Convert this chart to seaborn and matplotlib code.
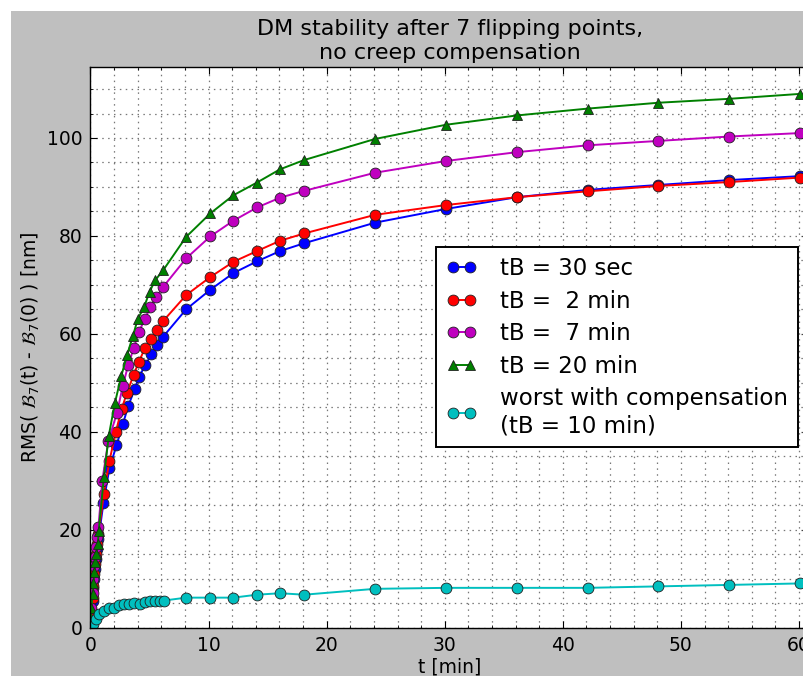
import numpy as np
import pandas as pd
import matplotlib
matplotlib.use("Agg")
import matplotlib.pyplot as plt
import seaborn as sns
from matplotlib.patches import Rectangle
from matplotlib.ticker import MultipleLocator

# ---------------- data ----------------
late_t = [8.1, 10.15, 12.1, 14.1, 16.05, 18.1, 24.1, 30.1, 36.1, 42.1, 48.1, 54.1, 60.05]

t_30s = [0, 0.08, 0.17, 0.25, 0.33, 0.42, 0.5, 0.58, 0.67, 1.1, 1.6, 2.2, 2.75, 3.2,
         3.75, 4.1, 4.65, 5.15, 5.65, 6.15] + late_t
y_30s = [0, 3, 5.5, 8, 10, 12, 14, 16, 18, 25.5, 32.5, 37.2, 41.6, 45.3,
         48.7, 51.2, 53.6, 55.8, 57.8, 59.4,
         65.0, 69.0, 72.4, 74.8, 76.9, 78.5, 82.7, 85.5, 87.9, 89.4, 90.4, 91.4, 92.2]

t_2m = [0, 0.08, 0.17, 0.25, 0.33, 0.42, 0.5, 0.58, 0.67, 1.13, 1.6, 2.15, 2.63, 3.1,
        3.65, 4.1, 4.6, 5.15, 5.65, 6.15] + late_t
y_2m = [0, 3.5, 6, 8.5, 11, 13, 15, 17, 19, 27.3, 34, 40, 44.6, 48,
        51.6, 54.3, 57, 59, 60.7, 62.6,
        67.9, 71.6, 74.7, 76.9, 79.0, 80.5, 84.3, 86.3, 87.9, 89.1, 90.2, 91.0, 91.9]

t_7m = [0, 0.08, 0.17, 0.25, 0.33, 0.42, 0.5, 0.58, 0.67, 1.0, 1.5, 2.25, 2.74, 3.2,
        3.67, 4.1, 4.6, 5.08, 5.57, 6.16] + late_t
y_7m = [0, 4, 7, 10, 12.5, 14.5, 16.5, 18.5, 20.5, 30, 38, 43.9, 49.4, 53.7,
        57.1, 60.4, 63, 65.5, 67.5, 69.6,
        75.4, 79.9, 83.1, 85.8, 87.8, 89.2, 92.9, 95.3, 97.1, 98.5, 99.4, 100.3, 101.0]

t_20m = [0, 0.08, 0.17, 0.25, 0.33, 0.42, 0.5, 0.62, 0.7, 1.13, 1.55, 2.06, 2.6, 3.1,
         3.6, 4.0, 4.55, 5.0, 5.5, 6.16] + late_t
y_20m = [0, 4, 6.9, 9, 11.3, 13.3, 15, 17.1, 19.8, 30.7, 39.2, 45.8, 51.3, 55.7,
         59.6, 63, 65.5, 68.6, 71, 73,
         79.8, 84.6, 88.3, 90.9, 93.6, 95.5, 99.8, 102.7, 104.6, 106.0, 107.2, 108.0, 109.0]

t_comp = [0, 0.2, 0.45, 0.7, 1.13, 1.55, 2.03, 2.4, 2.8, 3.25, 3.67, 4.15, 4.6, 5.0,
          5.5, 5.85, 6.2] + late_t
y_comp = [0, 0.8, 1.8, 2.8, 3.3, 4.0, 4.0, 4.5, 4.7, 4.8, 5.0, 4.7, 5.2, 5.4,
          5.4, 5.5, 5.5,
          6.1, 6.1, 6.1, 6.7, 7.0, 6.7, 7.9, 8.1, 8.1, 8.1, 8.4, 8.7, 9.0]

labels = ["tB = 30 sec", "tB =  2 min", "tB =  7 min", "tB = 20 min",
          "worst with compensation\n(tB = 10 min)"]
colors = ["#0000ff", "#ff0000", "#bf00bf", "#008000", "#00bfbf"]
markers = ["o", "o", "o", "^", "o"]

series = [(t_30s, y_30s), (t_2m, y_2m), (t_7m, y_7m), (t_20m, y_20m), (t_comp, y_comp)]

# ---------------- figure ----------------
W, H = 804, 676
fig = plt.figure(figsize=(W / 100, H / 100), dpi=100, facecolor="white")
fig.patches.append(Rectangle((11 / W, 0), 1, 1 - 11 / H, transform=fig.transFigure,
                             facecolor="#bfbfbf", edgecolor="none", zorder=-10))

x0, x1 = 90.5, 809.0   # pixel position of axes left / right
ytop, ybot = 67.0, 627.5
ax = fig.add_axes([x0 / W, (H - ybot) / H, (x1 - x0) / W, (ybot - ytop) / H])
ax.set_facecolor("white")

for (t, y), lab, c, m in zip(series, labels, colors, markers):
    df = pd.DataFrame({"t": t, "y": y})
    sns.lineplot(data=df, x="t", y="y", ax=ax, color=c, marker=m, markersize=7.8,
                 markeredgecolor="#202020", markeredgewidth=0.6, linewidth=1.4,
                 label=lab, sort=False, estimator=None)

px_per_unit = (799.0 - x0) / 60.0
ax.set_xlim(0, (x1 - x0) / px_per_unit)
ax.set_ylim(0, 114.5)

ax.xaxis.set_major_locator(MultipleLocator(10))
ax.xaxis.set_minor_locator(MultipleLocator(2))
ax.yaxis.set_major_locator(MultipleLocator(20))
ax.yaxis.set_minor_locator(MultipleLocator(5))
ax.grid(True, which="both", color="#777777", linestyle=(0, (1.2, 3.5)), linewidth=0.9)
ax.set_axisbelow(True)
ax.tick_params(which="both", direction="in", top=True, right=True, colors="black",
               labelsize=13.5)
ax.tick_params(which="major", length=5, width=0.8, pad=6)
ax.tick_params(which="minor", length=2.5, width=0.6)
for s in ax.spines.values():
    s.set_color("black")
    s.set_linewidth(1.0)

ax.set_xlabel("t [min]", fontsize=13.5, labelpad=2)
ax.set_ylabel(r"RMS( $\mathcal{B}_7$(t) - $\mathcal{B}_7$(0) ) [nm]", fontsize=13.5,
              labelpad=3)
ax.set_title("DM stability after 7 flipping points,\nno creep compensation",
             fontsize=16, pad=6)

leg = ax.legend(loc="center right", bbox_to_anchor=(798.5 / W, 1 - 347 / H),
                bbox_transform=fig.transFigure, borderaxespad=0, numpoints=2,
                fontsize=16.5, handlelength=1.35, handletextpad=1.0,
                labelspacing=0.42, borderpad=0.45, fancybox=False, framealpha=1,
                edgecolor="black")
leg.get_frame().set_linewidth(1.4)

fig.savefig("out.png", dpi=100, facecolor=fig.get_facecolor())
